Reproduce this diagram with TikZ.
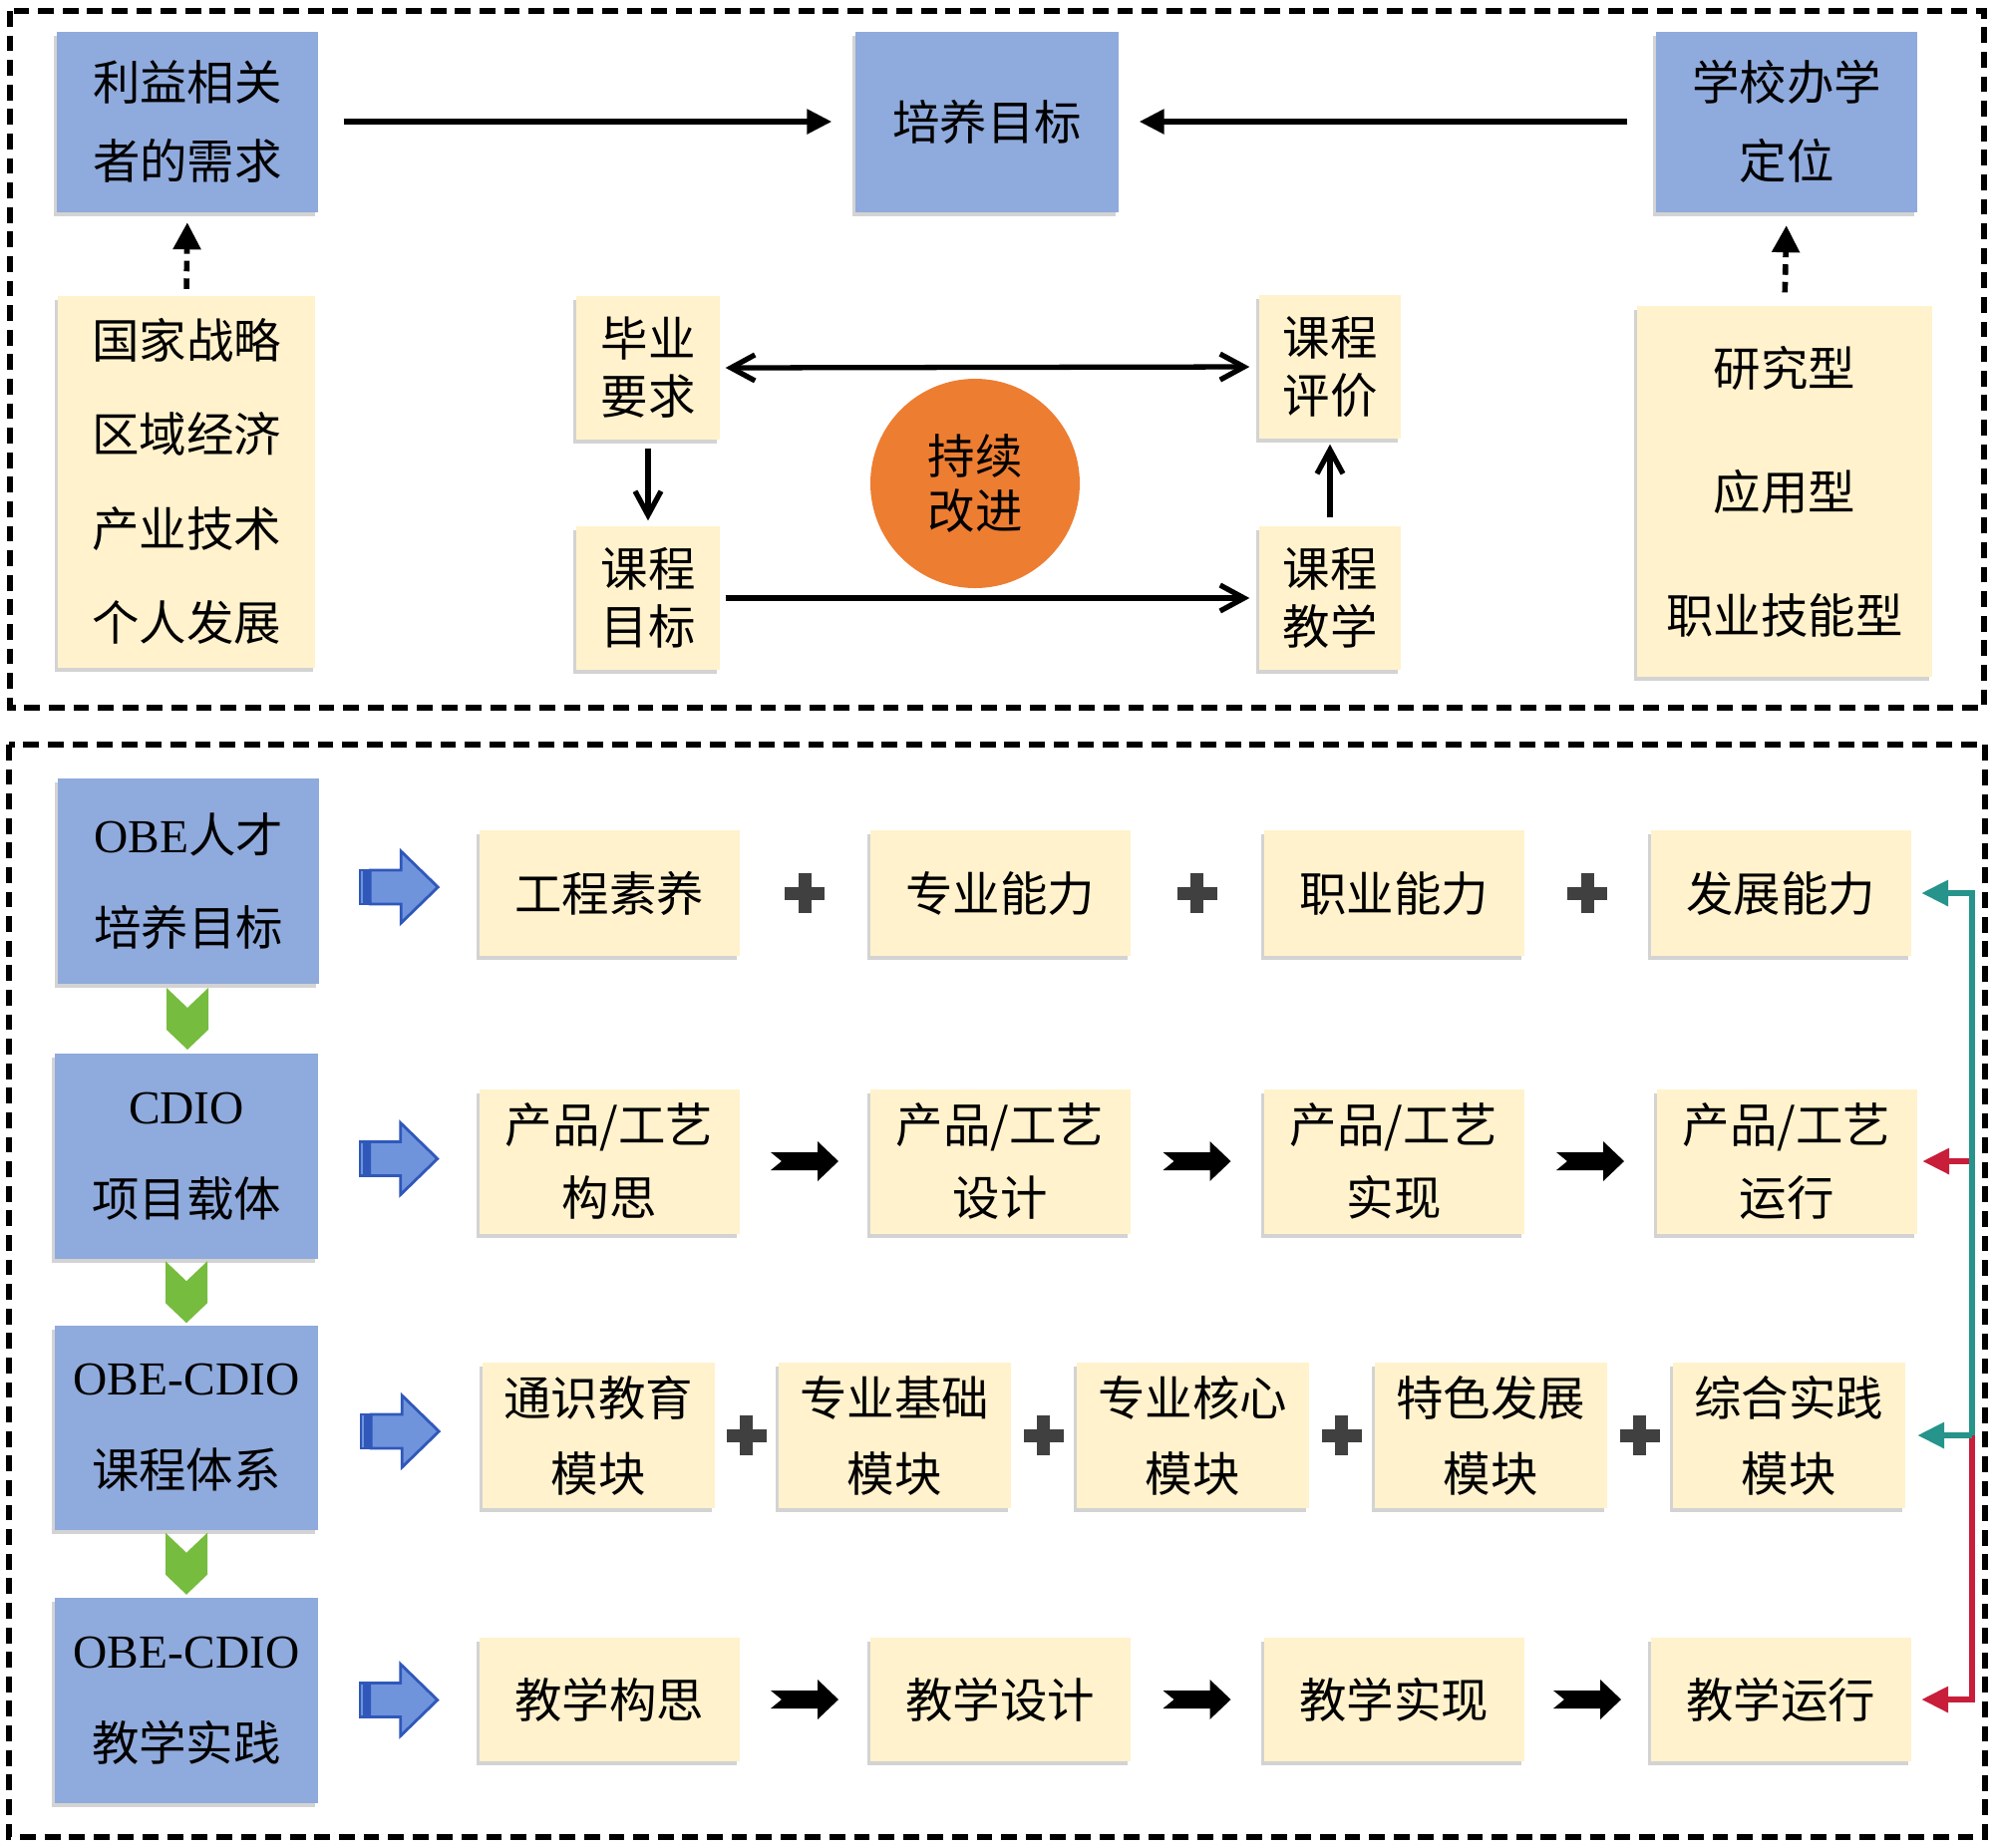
\documentclass[tikz,border=0pt]{standalone}
\usepackage{fontspec}
\setmainfont{Noto Sans CJK SC}
\newfontfamily\latinfont{Liberation Serif}
\usetikzlibrary{arrows.meta,calc,shadows}

\definecolor{boxblue}{RGB}{143,170,220}
\definecolor{boxcream}{RGB}{255,242,204}
\definecolor{circorange}{RGB}{237,125,49}
\definecolor{chevgreen}{RGB}{118,188,62}
\definecolor{arrblue}{RGB}{112,148,220}
\definecolor{arrblueline}{RGB}{48,88,186}
\definecolor{plusgray}{RGB}{64,64,64}
\definecolor{fbteal}{RGB}{38,148,138}
\definecolor{fbred}{RGB}{200,30,58}

\tikzset{
  tile/.style={inner sep=0pt, align=center,
    drop shadow={shadow xshift=-0.8pt, shadow yshift=-1.2pt, opacity=0.35}},
  bluebox/.style={tile, fill=boxblue},
  creambox/.style={tile, fill=boxcream},
  txt/.style={font=\fontsize{13.5pt}{#1}\selectfont},
  dashframe/.style={line width=1.9pt, dash pattern=on 4.5pt off 2.5pt},
  arr/.style={line width=1.6pt, -{Triangle[length=2.5mm,width=2.4mm]}},
  dasharr/.style={line width=1.6pt, dash pattern=on 3pt off 2pt,
    -{Triangle[length=2.7mm,width=2.7mm]}},
  barb/.style={line width=1.5pt, -{Straight Barb[length=2.4mm,width=2.6mm]}},
  dblbarb/.style={line width=1.5pt,
    {Straight Barb[length=2.4mm,width=2.6mm]}-{Straight Barb[length=2.4mm,width=2.6mm]}},
  fbarr/.style={line width=1.8pt, -{Triangle[length=2.7mm,width=2.5mm]}},
  plussign/.pic={
    \fill[plusgray] (-20,-6.5) rectangle (20,6.5);
    \fill[plusgray] (-6.5,-20) rectangle (6.5,20);
  },
  notcharrow/.pic={
    \fill[black] (-34,-9) -- (13,-9) -- (13,-20) -- (34,0) -- (13,20)
      -- (13,9) -- (-34,9) -- (-23,0) -- cycle;
  },
  stripearrow/.pic={
    \filldraw[fill=arrblue, draw=arrblueline, line width=0.6pt]
      (-39,-17) rectangle (-35,17);
    \filldraw[fill=arrblue, draw=arrblueline, line width=0.6pt]
      (-33,-17) rectangle (-31,17);
    \filldraw[fill=arrblue, draw=arrblueline, line width=0.8pt]
      (-29,-17) -- (2,-17) -- (2,-36) -- (39,0) -- (2,36) -- (2,17)
      -- (-29,17) -- cycle;
  },
  chevron/.pic={
    \fill[chevgreen] (-21,-31) -- (0,-11) -- (21,-31) -- (21,11) -- (0,31)
      -- (-21,11) -- cycle;
  },
}

\begin{document}
\begin{tikzpicture}[x=0.1mm, y=-0.1mm]
\useasboundingbox (0,0) rectangle (2000,1853);

% upper half
\draw[dashframe] (10,11) rectangle (1990,710);
\node[bluebox, txt=22.5pt, minimum width=26.2mm, minimum height=18.1mm] (need) at (188,122) {利益相关\\者的需求};
\node[bluebox, txt=22.5pt, minimum width=26.4mm, minimum height=18.1mm] (goal) at (990,122) {培养目标};
\node[bluebox, txt=22.5pt, minimum width=26.2mm, minimum height=18.1mm] (school) at (1792,122) {学校办学\\定位};
\node[creambox, txt=26.9pt, minimum width=25.9mm, minimum height=37.3mm] (nation) at (187,483) {国家战略\\区域经济\\产业技术\\个人发展};
\node[creambox, txt=35.3pt, minimum width=29.6mm, minimum height=37.2mm] (type) at (1790,493) {研究型\\应用型\\职业技能型};

\node[creambox, txt=16.5pt, minimum width=14.4mm, minimum height=14.4mm] (grad) at (650,369) {毕业\\要求};
\node[creambox, txt=16.5pt, minimum width=14.4mm, minimum height=14.4mm] (cobj) at (650,600) {课程\\目标};
\node[creambox, txt=16.5pt, minimum width=14.2mm, minimum height=14.4mm] (ceval) at (1334,368) {课程\\评价};
\node[creambox, txt=16.5pt, minimum width=14.2mm, minimum height=14.4mm] (cteach) at (1334,600) {课程\\教学};
\node[circle, fill=circorange, minimum size=21mm, inner sep=0pt, align=center, txt=15.7pt] (improve) at (978,485) {持续\\改进};

\draw[arr, shorten <=2.5mm, shorten >=2.3mm] (need) -- (goal);
\draw[arr, shorten <=2.8mm, shorten >=2mm] (school) -- (goal);
\draw[dasharr, shorten <=0.6mm, shorten >=1mm] (nation.north) -- (need.south);
\draw[dasharr, shorten <=1.3mm, shorten >=1.3mm] (type.north) -- (school.south);
\draw[dblbarb, shorten <=0.5mm, shorten >=0.9mm] (grad.east) -- (ceval.west);
\draw[barb, shorten <=0.8mm, shorten >=0.5mm] (grad.south) -- (cobj.north);
\draw[barb, shorten <=0.5mm, shorten >=0.9mm] (cobj.east) -- (cteach.west);
\draw[barb, shorten <=0.8mm, shorten >=0.5mm] (cteach.north) -- (ceval.south);

% lower half
\draw[dashframe] (9,747) rectangle (1991,1843);
\node[bluebox, txt=26.5pt, minimum width=26.2mm, minimum height=20.6mm] (obe) at (189,884) {{\latinfont OBE}人才\\培养目标};
\node[bluebox, txt=26.5pt, minimum width=26.4mm, minimum height=20.6mm] (cdio) at (187,1160) {{\latinfont CDIO}\\项目载体};
\node[bluebox, txt=26.5pt, minimum width=26.4mm, minimum height=20.5mm] (system) at (187,1432) {{\latinfont OBE-CDIO}\\课程体系};
\node[bluebox, txt=26.5pt, minimum width=26.4mm, minimum height=20.6mm] (practice) at (187,1706) {{\latinfont OBE-CDIO}\\教学实践};

\node[creambox, txt=20pt, minimum width=26.1mm, minimum height=12.6mm] (ab1) at (611,896) {工程素养};
\node[creambox, txt=20pt, minimum width=26.1mm, minimum height=12.6mm] (ab2) at (1003,896) {专业能力};
\node[creambox, txt=20pt, minimum width=26.1mm, minimum height=12.6mm] (ab3) at (1398,896) {职业能力};
\node[creambox, txt=20pt, minimum width=26.1mm, minimum height=12.6mm] (ab4) at (1786,896) {发展能力};

\node[creambox, txt=20.8pt, minimum width=26.1mm, minimum height=14.5mm] (pr1) at (611,1165) {产品/工艺\\构思};
\node[creambox, txt=20.8pt, minimum width=26.1mm, minimum height=14.5mm] (pr2) at (1003,1165) {产品/工艺\\设计};
\node[creambox, txt=20.8pt, minimum width=26.1mm, minimum height=14.5mm] (pr3) at (1398,1165) {产品/工艺\\实现};
\node[creambox, txt=20.8pt, minimum width=26.1mm, minimum height=14.5mm] (pr4) at (1792,1165) {产品/工艺\\运行};

\node[creambox, txt=21.6pt, minimum width=23.3mm, minimum height=14.6mm] (md1) at (600,1440) {通识教育\\模块};
\node[creambox, txt=21.6pt, minimum width=23.3mm, minimum height=14.6mm] (md2) at (897,1440) {专业基础\\模块};
\node[creambox, txt=21.6pt, minimum width=23.3mm, minimum height=14.6mm] (md3) at (1196,1440) {专业核心\\模块};
\node[creambox, txt=21.6pt, minimum width=23.3mm, minimum height=14.6mm] (md4) at (1495,1440) {特色发展\\模块};
\node[creambox, txt=21.6pt, minimum width=23.3mm, minimum height=14.6mm] (md5) at (1794,1440) {综合实践\\模块};

\node[creambox, txt=20pt, minimum width=26.1mm, minimum height=12.4mm] (tc1) at (611,1705) {教学构思};
\node[creambox, txt=20pt, minimum width=26.1mm, minimum height=12.4mm] (tc2) at (1003,1705) {教学设计};
\node[creambox, txt=20pt, minimum width=26.1mm, minimum height=12.4mm] (tc3) at (1398,1705) {教学实现};
\node[creambox, txt=20pt, minimum width=26.1mm, minimum height=12.4mm] (tc4) at (1786,1705) {教学运行};

\foreach \a/\b in {obe/cdio,cdio/system,system/practice}
  \pic at ($(\a.south)!0.5!(\b.north)$) {chevron};
\foreach \a/\b in {obe/ab1,cdio/pr1,system/md1,practice/tc1}
  \pic at ($(\a.east)!0.5!(\b.west)$) {stripearrow};
\foreach \a/\b in {ab1/ab2,ab2/ab3,ab3/ab4,md1/md2,md2/md3,md3/md4,md4/md5}
  \pic at ($(\a.east)!0.5!(\b.west)$) {plussign};
\foreach \a/\b in {pr1/pr2,pr2/pr3,pr3/pr4,tc1/tc2,tc2/tc3,tc3/tc4}
  \pic at ($(\a.east)!0.5!(\b.west)$) {notcharrow};

% feedback lines on the right
\coordinate (fb) at (1978,0);
\draw[fbarr, fbred, shorten >=1mm] (fb |- pr4.east) -- (fb |- tc4.east) -- (tc4.east);
\draw[fbarr, fbred, shorten >=0.5mm] (fb |- pr4.east) -- (pr4.east);
\draw[fbarr, fbteal, shorten >=1mm] (fb |- md5.east) -- (fb |- ab4.east) -- (ab4.east);
\draw[fbarr, fbteal, shorten >=1.2mm] (fb |- md5.east) -- (md5.east);
\end{tikzpicture}
\end{document}
